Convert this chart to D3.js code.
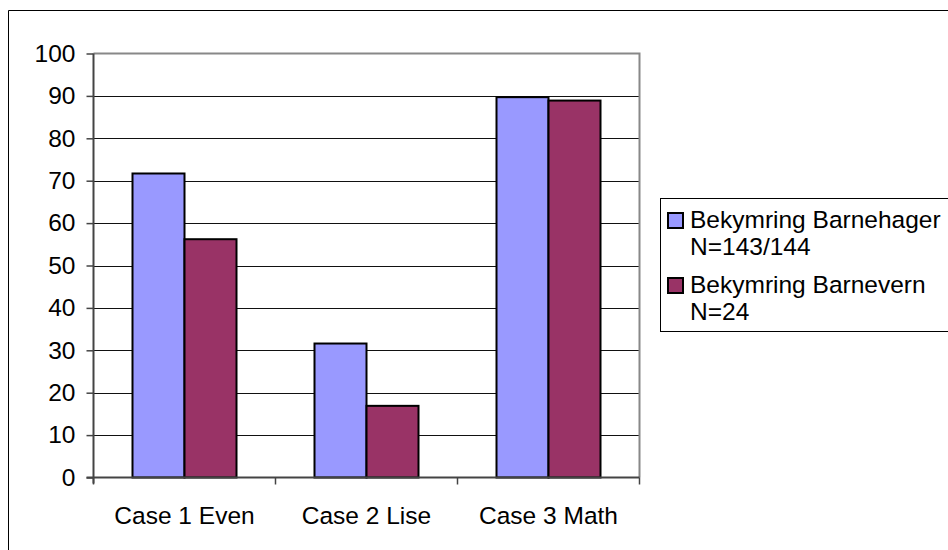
<!DOCTYPE html>
<html><head><meta charset="utf-8">
<script src="https://cdn.jsdelivr.net/npm/d3@7"></script>
<style>body{margin:0;background:#fff}svg{display:block;font-family:"Liberation Sans",Arial,sans-serif}</style>
</head><body><svg id="c" width="948" height="550"></svg>
<script>
const categories = ["Case 1 Even", "Case 2 Lise", "Case 3 Math"];
const seriesNames = [["Bekymring Barnehager", "N=143/144"], ["Bekymring Barnevern", "N=24"]];
const barnehager = [71.7, 31.6, 89.7];
const barnevern = [56.2, 16.9, 88.9];
const yTicks = [0, 10, 20, 30, 40, 50, 60, 70, 80, 90, 100];
const colors = ["#9999FF", "#993366"];

const svg = d3.select("#c");
const L = 93.5, R = 639.5, T = 53.5, B = 477.5;
const FS = 24.5;
const x = d3.scaleBand().domain(categories).range([L, R]);
const xs = d3.scaleBand().domain([0, 1]).range([0, x.bandwidth()]).paddingInner(0).paddingOuter(0.75);
const y = d3.scaleLinear().domain([0, 100]).range([B, T]);
const series = [barnehager, barnevern];

// outer chart border
svg.append("path").attr("d", `M8.5,560V10.5H960`).attr("fill", "none").attr("stroke", "#000").attr("stroke-width", 1);

// gridlines
svg.append("g").selectAll("line").data(yTicks.filter(d => d > 0 && d < 100)).join("line")
  .attr("x1", L).attr("x2", R).attr("y1", d => Math.round(y(d)) + 0.5).attr("y2", d => Math.round(y(d)) + 0.5)
  .attr("stroke", "#111").attr("stroke-width", 1);
// plot area border top/right gray
svg.append("path").attr("d", `M${L},${T}H${R}V${B}`).attr("fill", "none").attr("stroke", "#888").attr("stroke-width", 2);

// bars
series.forEach((vals, si) => {
  svg.append("g").selectAll("rect").data(vals).join("rect")
    .attr("x", (d, i) => x(categories[i]) + xs(si))
    .attr("width", xs.bandwidth())
    .attr("y", d => y(d))
    .attr("height", d => y(0) - y(d))
    .attr("fill", colors[si]).attr("stroke", "#000").attr("stroke-width", 2);
});

// y axis
const yAxis = d3.axisLeft(y).tickValues(yTicks).tickSize(7).tickPadding(11);
const gy = svg.append("g").attr("transform", `translate(${L},0)`).call(yAxis);
gy.select(".domain").attr("stroke", "#444").attr("stroke-width", 2).attr("d", `M0,${T}V${B + 6}`);
gy.selectAll(".tick line").attr("stroke", "#444").attr("stroke-width", 1.5);
gy.selectAll("text").attr("font-size", FS).attr("fill", "#000").attr("font-family", "Liberation Sans, Arial, sans-serif");

// x axis
const gx = svg.append("g").attr("transform", `translate(0,${B})`);
gx.append("line").attr("x1", L - 7).attr("x2", R).attr("y1", 0).attr("y2", 0).attr("stroke", "#444").attr("stroke-width", 2);
const bounds = categories.map(c => x(c)).concat([R]);
gx.selectAll("line.t").data(bounds).join("line").attr("class", "t")
  .attr("x1", d => d).attr("x2", d => d).attr("y1", 0).attr("y2", 7).attr("stroke", "#444").attr("stroke-width", 1.5);
gx.selectAll("text").data(categories).join("text")
  .attr("x", d => x(d) + x.bandwidth() / 2).attr("y", 46).attr("text-anchor", "middle")
  .attr("font-size", FS).text(d => d);

// legend
const lg = svg.append("g");
lg.append("rect").attr("x", 660.5).attr("y", 198.5).attr("width", 400).attr("height", 133)
  .attr("fill", "#fff").attr("stroke", "#000").attr("stroke-width", 1);
seriesNames.forEach((lines, i) => {
  const by = 228 + i * 65;
  lg.append("rect").attr("x", 668).attr("y", by - 15).attr("width", 15).attr("height", 15)
    .attr("fill", colors[i]).attr("stroke", "#000").attr("stroke-width", 2);
  lines.forEach((t, j) => {
    lg.append("text").attr("x", 690).attr("y", by + j * 27).attr("font-size", FS).text(t);
  });
});
</script></body></html>
